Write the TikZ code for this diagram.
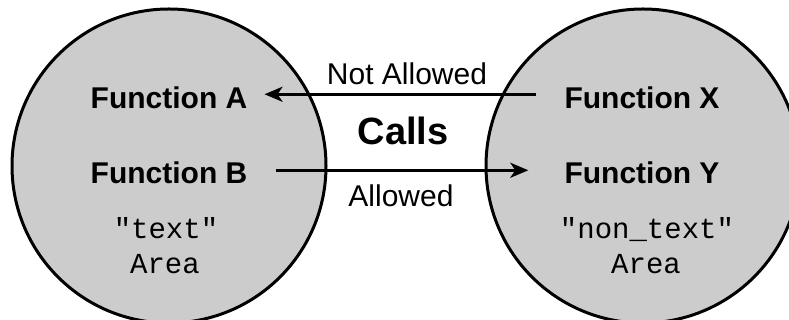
\documentclass[tikz,border=0pt]{standalone}
\usepackage{fontspec}
\setsansfont{Liberation Sans}
\setmonofont{Liberation Mono}
\usepackage{tikz}
\usetikzlibrary{arrows.meta}
\definecolor{AreaGray}{RGB}{204,204,204}

\begin{document}
\begin{tikzpicture}[
  x=1pt,y=1pt,
  area/.style={circle,draw,line width=3pt,fill=AreaGray,minimum size=314pt,inner sep=0pt},
  func/.style={font=\sffamily\bfseries\fontsize{30}{36}\selectfont,inner sep=0pt,anchor=base},
  mono/.style={font=\ttfamily\fontsize{29}{35}\selectfont,inner sep=0pt,anchor=base},
  calltext/.style={font=\sffamily\fontsize{30}{36}\selectfont,inner sep=0pt,anchor=base},
  callarrow/.style={line width=3pt,-{Stealth[length=18pt,width=15pt,inset=5pt]}}]
\path[use as bounding box] (0,0) rectangle (789,320);
\clip (0,0) rectangle (789,320);
% the two areas
\node[area] (textArea) at (169,154) {};
\node[area] (nontextArea) at (643,154) {};
\node[func] (fa) at (169,211) {Function A};
\node[func] (fb) at (169,136) {Function B};
\node[func] (fx) at (642,211) {Function X};
\node[func] (fy) at (642,136) {Function Y};
\node[mono] (textName) at (166,81) {"text"};
\node[mono] (textWord) at (165,46) {Area};
\node[mono] (nontextName) at (647,81) {"non\_text"};
\node[mono] (nontextWord) at (646,46) {Area};
% calls between them
\node[calltext,font=\sffamily\bfseries\fontsize{38}{44}\selectfont] (calls) at (403,175) {Calls};
\node[calltext] (notAllowed) at (407,235) {Not Allowed};
\node[calltext] (allowed) at (401,113) {Allowed};
\draw[callarrow,shorten <=28pt,shorten >=17pt] ([yshift=4pt]fx.west) -- ([yshift=4pt]fa.east);
\draw[callarrow,shorten <=28pt,shorten >=36pt] ([yshift=3pt]fb.east) -- ([yshift=3pt]fy.west);
\end{tikzpicture}
\end{document}
